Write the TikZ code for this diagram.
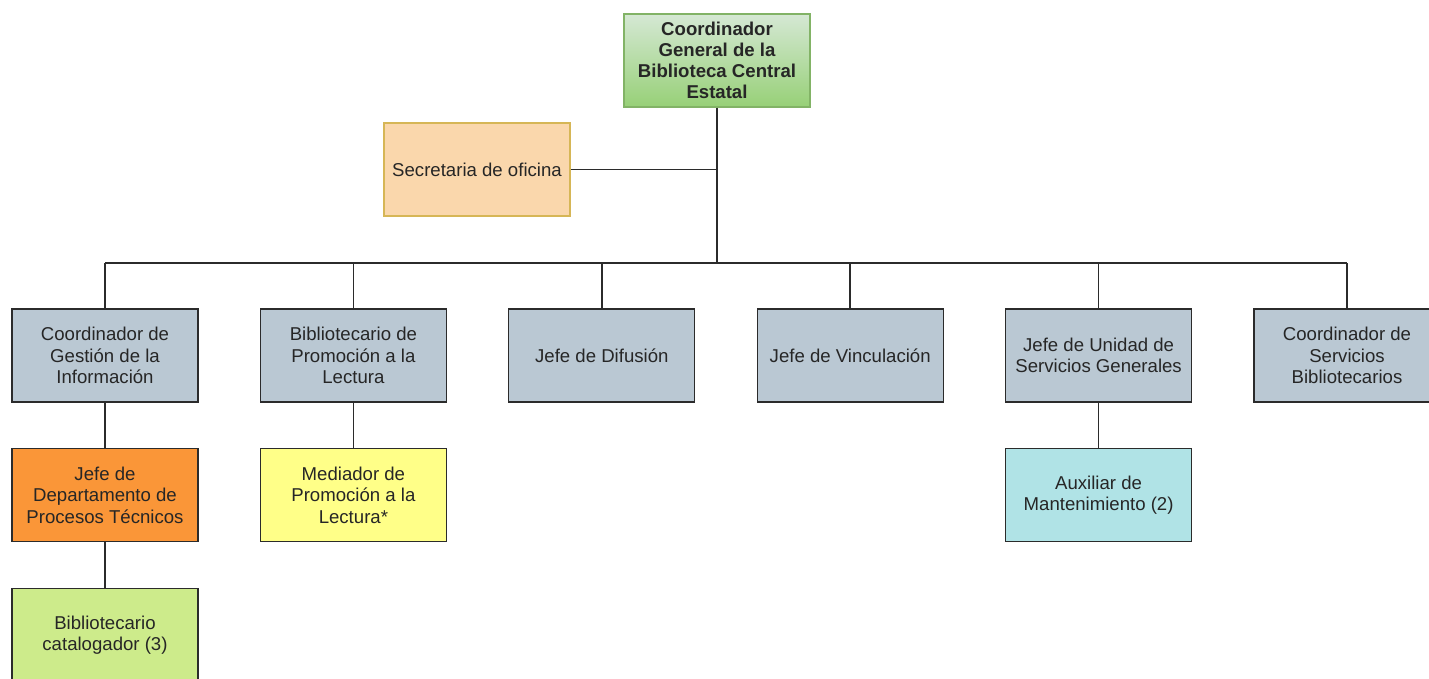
\documentclass[tikz,border=0pt]{standalone}
\usepackage{fontspec}
\setmainfont{Liberation Sans}
\usetikzlibrary{positioning}

\definecolor{lineaGris}{HTML}{2B2B2B}
\definecolor{verdeClaro}{HTML}{D5E8D4}
\definecolor{verdeOscuro}{HTML}{97D077}
\definecolor{verdeBorde}{HTML}{82B366}
\definecolor{naranjaClaro}{HTML}{FAD7AC}
\definecolor{naranjaBorde}{HTML}{D6B656}
\definecolor{azulGris}{HTML}{BAC8D3}
\definecolor{naranja}{HTML}{FA9638}
\definecolor{amarillo}{HTML}{FFFF88}
\definecolor{cian}{HTML}{B0E3E6}
\definecolor{lima}{HTML}{CDEB8B}

\begin{document}
\begin{tikzpicture}[x=0.5pt, y=-0.5pt, node distance=22.8pt and 30.6pt,
	puesto/.style={draw=lineaGris, line width=0.6pt, fill=azulGris, minimum width=93pt,
		minimum height=46.5pt, inner sep=0pt, align=center,
		text=black!85, font=\fontsize{9.3}{10.6}\selectfont},
	enlace/.style={draw=lineaGris, line width=0.75pt}]
	\useasboundingbox (0,0) rectangle (1429,679);

	\node[puesto, draw=verdeBorde, top color=verdeClaro, bottom color=verdeOscuro,
		font=\fontsize{9.3}{10.6}\selectfont\bfseries] (general) at (717,60.5)
		{Coordinador\\General de la\\Biblioteca Central\\Estatal};
	\node[puesto, draw=naranjaBorde, fill=naranjaClaro] (secretaria) at (477,169.5)
		{Secretaria de oficina};

	\node[puesto] (gestion) at (105,355.5) {Coordinador de\\Gestión de la\\Información};
	\node[puesto, right=of gestion] (promocion) {Bibliotecario de\\Promoción a la\\Lectura};
	\node[puesto, right=of promocion] (difusion) {Jefe de Difusión};
	\node[puesto, right=of difusion] (vinculacion) {Jefe de Vinculación};
	\node[puesto, right=of vinculacion] (generales) {Jefe de Unidad de\\Servicios Generales};
	\node[puesto, right=of generales] (servicios) {Coordinador de\\Servicios\\Bibliotecarios};

	\node[puesto, fill=naranja, below=of gestion] (procesos) {Jefe de\\Departamento de\\Procesos Técnicos};
	\node[puesto, fill=lima, below=of procesos] (catalogador) {Bibliotecario\\catalogador (3)};
	\node[puesto, fill=amarillo, below=of promocion] (mediador) {Mediador de\\Promoción a la\\Lectura*};
	\node[puesto, fill=cian, below=of generales] (auxiliar) {Auxiliar de\\Mantenimiento (2)};

	\coordinate (bus) at (717,263);

	% lineas de mando
	\draw[enlace] (general.south) -- (general.south |- bus);
	\draw[enlace] (secretaria.east) -- (secretaria.east -| general.south);
	\draw[enlace] (gestion.north |- bus) -- (servicios.north |- bus);
	\foreach \n in {gestion, promocion, difusion, vinculacion, generales, servicios}
		\draw[enlace] (\n.north) -- (\n.north |- bus);
	\draw[enlace] (gestion) -- (procesos);
	\draw[enlace] (procesos) -- (catalogador);
	\draw[enlace] (promocion) -- (mediador);
	\draw[enlace] (generales) -- (auxiliar);
\end{tikzpicture}
\end{document}
